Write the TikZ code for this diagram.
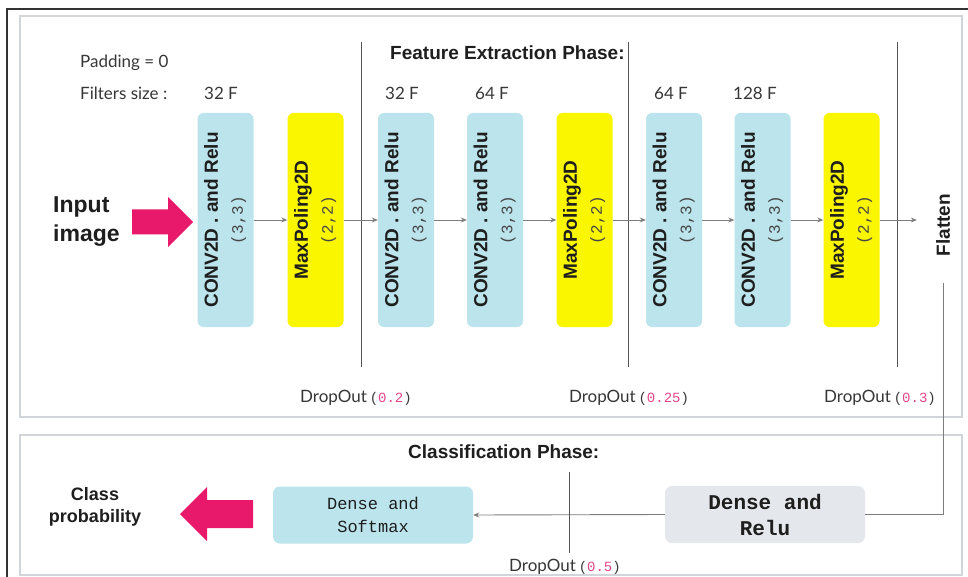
\documentclass[tikz,border=0pt]{standalone}
\usepackage{fontspec}
\setmainfont{Liberation Sans}
\newfontfamily\latof{Lato}
\newfontfamily\monof{Liberation Mono}
\usetikzlibrary{arrows.meta}
\definecolor{boxblue}{RGB}{188,228,236}
\definecolor{boxyellow}{RGB}{250,246,0}
\definecolor{pinkarrow}{RGB}{232,24,106}
\definecolor{relugray}{RGB}{228,231,236}
\definecolor{panelline}{RGB}{210,214,219}
\definecolor{conncol}{RGB}{125,125,125}
\definecolor{sepcol}{RGB}{85,85,85}
\definecolor{labelcol}{RGB}{55,55,55}
\definecolor{dropink}{RGB}{228,70,140}
\definecolor{boxtext}{RGB}{30,30,30}
\definecolor{paramcol}{RGB}{70,70,70}
\newcommand{\boxlbl}[2]{\rotatebox{90}{\fontsize{19}{24}\selectfont\begin{tabular}{@{}c@{}}{\bfseries\color{boxtext}#1}\\[1pt]{\monof\fontsize{16}{18}\selectfont\color{paramcol}#2}\end{tabular}}}
\newcommand{\dropl}[1]{DropOut\,{\monof\fontsize{14}{16}\selectfont(\textcolor{dropink}{#1})}}
\begin{document}
\begin{tikzpicture}[x=1pt,y=-1pt,
  convbox/.style={fill=boxblue, rounded corners=6pt, minimum width=56pt, minimum height=214pt, inner sep=0pt},
  poolbox/.style={convbox, fill=boxyellow},
  conn/.style={draw=conncol, line width=0.9pt, -{Stealth[length=6pt,width=5pt]}},
  sepline/.style={draw=sepcol, line width=0.8pt},
  flowline/.style={draw=conncol, line width=0.9pt},
  panel/.style={draw=panelline, line width=1.6pt},
  lbl/.style={font=\latof\fontsize{17}{20}\selectfont, text=labelcol, inner sep=0pt},
  title/.style={font=\fontsize{19}{23}\selectfont\bfseries, text=boxtext, inner sep=0pt},
  densebox/.style={rounded corners=7pt, minimum width=200pt, minimum height=57pt, inner sep=0pt, align=center}
]
\useasboundingbox (0,0) rectangle (968,577);
\fill[white] (0,0) rectangle (968,577);
% outer frame
\draw[draw=black!80, line width=1.8pt] (7,577) -- (7,9) -- (968,9);
% panels
\draw[panel] (20,16) rectangle (962,417);
\draw[panel] (20,435) rectangle (962,575);

% top-left labels
\node[lbl, anchor=west] (pad) at (80,63) {Padding = 0};
\node[lbl, anchor=west] (filt) at (80,93) {Filters size :};
\node[title, anchor=west] (fet) at (390,53) {Feature Extraction Phase:};

% filter counts
\node[lbl] (f1) at (221,93) {32 F};
\node[lbl] (f3) at (402,93) {32 F};
\node[lbl] (f4) at (492,93) {64 F};
\node[lbl] (f5) at (671,93) {64 F};
\node[lbl] (f6) at (755,93) {128 F};

% separators
\draw[sepline] (361,42) -- (361,367);
\draw[sepline] (628,42) -- (628,367);
\draw[sepline] (897,42) -- (897,367);

% boxes
\node[convbox] (c1) at (225.5,220) {\boxlbl{CONV2D . and Relu}{(3,3)}};
\node[poolbox] (p1) at (315.5,220) {\boxlbl{MaxPoling2D}{(2,2)}};
\node[convbox] (c3) at (406,220) {\boxlbl{CONV2D . and Relu}{(3,3)}};
\node[convbox] (c4) at (495,220) {\boxlbl{CONV2D . and Relu}{(3,3)}};
\node[poolbox] (p2) at (584.5,220) {\boxlbl{MaxPoling2D}{(2,2)}};
\node[convbox] (c5) at (674,220) {\boxlbl{CONV2D . and Relu}{(3,3)}};
\node[convbox] (c6) at (762.5,220) {\boxlbl{CONV2D . and Relu}{(3,3)}};
\node[poolbox] (p3) at (851.5,220) {\boxlbl{MaxPoling2D}{(2,2)}};
\node[inner sep=3pt, font=\fontsize{19}{23}\selectfont\bfseries, text=boxtext] (flat) at (943,225) {\rotatebox{90}{Flatten}};

\draw[conn] (c1.east) -- (p1.west);
\draw[conn] (p1.east) -- (c3.west);
\draw[conn] (c3.east) -- (c4.west);
\draw[conn] (c4.east) -- (p2.west);
\draw[conn] (p2.east) -- (c5.west);
\draw[conn] (c5.east) -- (c6.west);
\draw[conn] (c6.east) -- (p3.west);
\draw[conn, shorten >=16pt] (p3.east) -- (p3.east -| flat.west);

% input
\node[anchor=west, align=left, inner sep=0pt, font=\fontsize{23}{29}\selectfont\bfseries, text=boxtext] (inp) at (53,222) {Input\\image};
\fill[pinkarrow] (132,209.5) -- (168,209.5) -- (168,197) -- (193,222) -- (168,247) -- (168,234.5) -- (132,234.5) -- cycle;

% dropout labels
\node[lbl] (d1) at (356,398) {\dropl{0.2}};
\node[lbl] (d2) at (629,398) {\dropl{0.25}};
\node[lbl] (d3) at (880,398) {\dropl{0.3}};

% classification
\node[title, anchor=west] (clt) at (408,452) {Classification Phase:};
\node[densebox, fill=relugray, font=\monof\bfseries\fontsize{21}{26}\selectfont, text=boxtext] (relu) at (765,514.5) {Dense and\\Relu};
\node[densebox, fill=boxblue, font=\monof\fontsize{17}{23}\selectfont, text=boxtext] (soft) at (373,515) {Dense and\\Softmax};
\draw[flowline, shorten <=24pt] (flat.south) |- (relu.east);
\draw[conn] (relu.west) -- (soft.east);
\draw[sepline] (569,472) -- (569,553);
\node[lbl] (d4) at (565,567) {\dropl{0.5}};
\fill[pinkarrow] (180,514) -- (207,487) -- (207,500) -- (253,500) -- (253,528) -- (207,528) -- (207,541) -- cycle;
\node[align=center, inner sep=0pt, font=\fontsize{18}{22}\selectfont\bfseries, text=boxtext] (cls) at (95,507) {Class\\probability};
\end{tikzpicture}
\end{document}
